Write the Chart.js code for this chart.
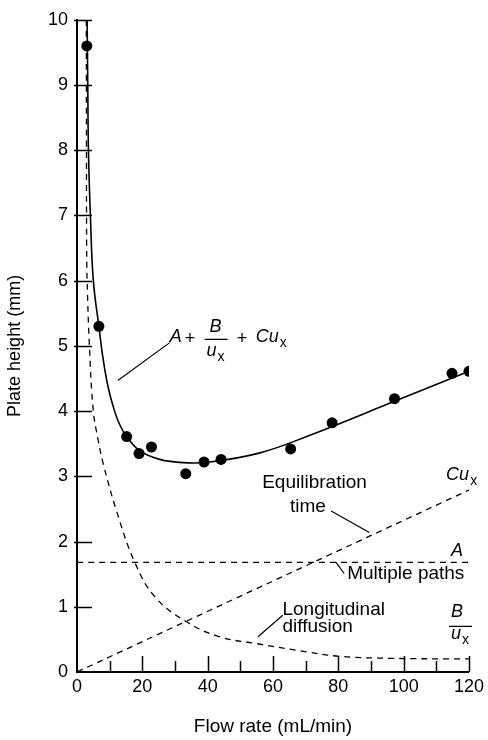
<!DOCTYPE html>
<html>
<head>
<meta charset="utf-8">
<title>Plate height vs flow rate</title>
<script src="https://cdn.jsdelivr.net/npm/chart.js@4.4.0/dist/chart.umd.min.js"></script>
<style>
    html, body { margin: 0; padding: 0; background: #fff; }
</style>
</head>
<body>
<canvas id="plateChart" width="488" height="740"></canvas>
<script>
//############################ Data ############################
// measured plate heights
const flowPoints = [3.0, 6.7, 15.2, 19.0, 22.8, 33.3, 38.9, 44.1, 65.4, 78.1, 97.2, 114.8, 120.0];
const heightPoints = [9.6, 5.3, 3.61, 3.35, 3.45, 3.04, 3.22, 3.26, 3.42, 3.82, 4.19, 4.58, 4.61];

// fitted curve A + B/u + Cu
const fitFlow = [3.1, 3.3, 3.5, 4.1, 5.0, 6.7, 8.0, 9.6, 11.5, 13.2, 15.2, 19.3, 25.3, 32.5, 40.7, 56.0, 71.3, 97.2, 118.5];
const fitHeight = [10.0, 9.0, 8.0, 7.0, 6.0, 5.3, 4.8, 4.35, 4.0, 3.78, 3.61, 3.39, 3.26, 3.21, 3.22, 3.36, 3.63, 4.15, 4.58];

// longitudinal diffusion term B/u
const diffFlow = [2.85, 2.9, 2.95, 3.1, 3.8, 5.0, 6.5, 8.0, 12.1, 17.7, 23.9, 33.5, 43.7, 54.4, 70.2, 80.4, 95.7, 120.0];
const diffHeight = [10.0, 8.0, 6.5, 6.0, 5.0, 4.0, 3.55, 3.2, 2.47, 1.68, 1.15, 0.77, 0.54, 0.44, 0.31, 0.24, 0.21, 0.2];

// multiple paths term A
const pathsFlow = [0, 120];
const pathsHeight = [1.68, 1.68];

// equilibration time term Cu
const equilFlow = [0, 120];
const equilHeight = [0, 2.79];

// tick labels
const xTicks = [0, 20, 40, 60, 80, 100, 120];
const xMinorTicks = [10, 30, 50, 70, 90, 110];
const yTicks = [0, 1, 2, 3, 4, 5, 6, 7, 8, 9, 10];

//############################ Helpers ############################
const FONT = '"Liberation Sans", Arial, Helvetica, sans-serif';

const toXY = (xs, ys) => xs.map((x, i) => ({ x: x, y: ys[i] }));

// annotation layout (data coordinates of the figure)
const noteLines = [
    [12.5, 4.47, 28.4, 5.05],
    [39.1, 5.10, 46.1, 5.10],
    [77.8, 2.47, 89.5, 2.14],
    [79.3, 1.68, 81.8, 1.51],
    [55.4, 0.54, 63.0, 0.87],
    [113.9, 0.70, 120.9, 0.70],
];

const noteTexts = [
    { text: 'A', x: 28.4, y: 5.13, italic: true },
    { text: '+', x: 33.0, y: 5.11 },
    { text: 'B', x: 42.4, y: 5.29, italic: true, align: 'center' },
    { text: 'u', x: 41.2, y: 4.92, italic: true, align: 'center', sub: 'x' },
    { text: '+', x: 48.9, y: 5.11 },
    { text: 'Cu', x: 54.7, y: 5.13, italic: true, sub: 'x' },
    { text: 'Equilibration', x: 72.7, y: 2.90, align: 'center', size: 19 },
    { text: 'time', x: 70.7, y: 2.53, align: 'center', size: 19 },
    { text: 'Cu', x: 113.0, y: 3.02, italic: true, sub: 'x' },
    { text: 'A', x: 116.3, y: 1.86, italic: true, align: 'center' },
    { text: 'Multiple paths', x: 82.7, y: 1.50, size: 19 },
    { text: 'Longitudinal', x: 62.9, y: 0.96, size: 19 },
    { text: 'diffusion', x: 62.9, y: 0.69, size: 19 },
    { text: 'B', x: 116.3, y: 0.92, italic: true, align: 'center' },
    { text: 'u', x: 116.0, y: 0.58, italic: true, align: 'center', sub: 'x' },
];

//################# Plugin: inward tick marks and annotations #################
const figurePlugin = {
    id: 'figurePlugin',
    afterDraw(chart) {
        const ctx = chart.ctx;
        const xs = chart.scales.x;
        const ys = chart.scales.y;
        const area = chart.chartArea;
        ctx.save();
        ctx.strokeStyle = '#000';
        ctx.fillStyle = '#000';

        // tick marks pointing into the plot
        ctx.lineWidth = 1.5;
        ctx.beginPath();
        yTicks.slice(1).forEach(v => {
            const py = Math.round(ys.getPixelForValue(v)) + 0.5;
            ctx.moveTo(area.left - 3, py);
            ctx.lineTo(area.left + 15, py);
        });
        xTicks.slice(1).forEach(v => {
            const px = Math.round(xs.getPixelForValue(v)) + 0.5;
            ctx.moveTo(px, area.bottom);
            ctx.lineTo(px, area.bottom - 16);
        });
        xMinorTicks.forEach(v => {
            const px = Math.round(xs.getPixelForValue(v)) + 0.5;
            ctx.moveTo(px, area.bottom);
            ctx.lineTo(px, area.bottom - 11);
        });
        ctx.stroke();

        // leader lines and fraction bars
        ctx.lineWidth = 1.2;
        ctx.beginPath();
        noteLines.forEach(([x1, y1, x2, y2]) => {
            ctx.moveTo(xs.getPixelForValue(x1), ys.getPixelForValue(y1));
            ctx.lineTo(xs.getPixelForValue(x2), ys.getPixelForValue(y2));
        });
        ctx.stroke();

        // labels
        ctx.textBaseline = 'middle';
        noteTexts.forEach(n => {
            const px = xs.getPixelForValue(n.x);
            const py = ys.getPixelForValue(n.y);
            ctx.font = (n.italic ? 'italic ' : '') + (n.size || 18) + 'px ' + FONT;
            ctx.textAlign = n.align || 'left';
            ctx.fillText(n.text, px, py);
            if (n.sub) {
                const w = ctx.measureText(n.text).width;
                const sx = n.align === 'center' ? px + w / 2 : px + w;
                ctx.font = '14px ' + FONT;
                ctx.textAlign = 'left';
                ctx.fillText(n.sub, sx + 1, py + 6);
            }
        });
        ctx.restore();
    },
};

//############################ Create the chart ############################
const lineStyle = {
    showLine: true,
    pointRadius: 0,
    borderColor: '#000',
    fill: false,
    tension: 0.4,
};

const plateChart = new Chart(document.getElementById('plateChart'), {
    type: 'scatter',
    data: {
        datasets: [
            {
                label: 'Measured',
                data: toXY(flowPoints, heightPoints),
                pointRadius: 5.5,
                pointBackgroundColor: '#000',
                pointBorderWidth: 0,
                showLine: false,
            },
            Object.assign({ label: 'A + B/u + Cu', data: toXY(fitFlow, fitHeight), borderWidth: 1.6 }, lineStyle),
            Object.assign({ label: 'B/u', data: toXY(diffFlow, diffHeight), borderWidth: 1.3, borderDash: [6, 5] }, lineStyle),
            Object.assign({ label: 'A', data: toXY(pathsFlow, pathsHeight), borderWidth: 1.3, borderDash: [6, 5] }, lineStyle),
            Object.assign({ label: 'Cu', data: toXY(equilFlow, equilHeight), borderWidth: 1.3, borderDash: [6, 5] }, lineStyle),
        ],
    },
    options: {
        responsive: false,
        animation: false,
        devicePixelRatio: 1,
        layout: { padding: { left: 0, right: 18, top: 17, bottom: 0 } },
        plugins: {
            legend: { display: false },
            tooltip: { enabled: false },
        },
        scales: {
            x: {
                type: 'linear',
                min: 0,
                max: 120,
                afterBuildTicks: s => { s.ticks = xTicks.map(v => ({ value: v })); },
                afterFit: s => { s.height = 68; },
                grid: { display: false, drawTicks: false },
                border: { display: true, color: '#000', width: 2 },
                ticks: { color: '#000', padding: 4, maxRotation: 0, font: { family: FONT, size: 18 } },
                title: {
                    display: true,
                    text: 'Flow rate (mL/min)',
                    color: '#000',
                    padding: { top: 0, bottom: 2 },
                    font: { family: FONT, size: 19 },
                },
            },
            y: {
                type: 'linear',
                min: 0,
                max: 10,
                afterBuildTicks: s => { s.ticks = yTicks.map(v => ({ value: v })); },
                afterFit: s => { s.width = 77; },
                grid: { display: false, drawTicks: false },
                border: { display: true, color: '#000', width: 2 },
                ticks: { color: '#000', padding: 9, font: { family: FONT, size: 18 } },
                title: {
                    display: true,
                    text: 'Plate height (mm)',
                    color: '#000',
                    padding: { top: 4, bottom: 0 },
                    font: { family: FONT, size: 18 },
                },
            },
        },
    },
    plugins: [figurePlugin],
});
</script>
</body>
</html>
